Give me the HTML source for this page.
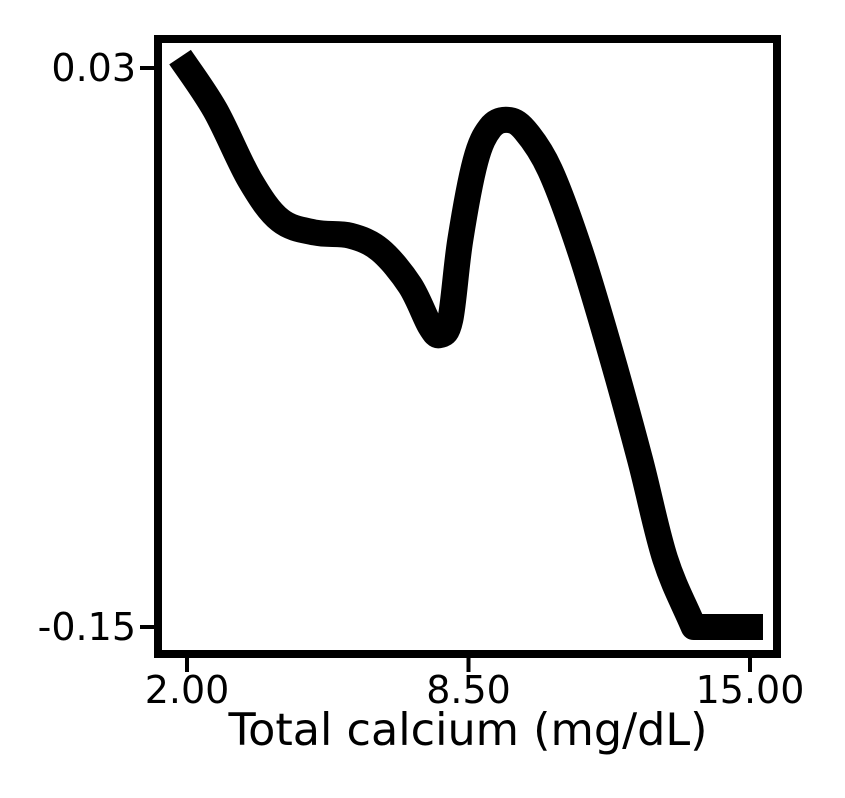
<!DOCTYPE html>
<html><head><meta charset="utf-8"><style>
html,body{margin:0;padding:0;background:#fff;}
svg text{font-family:"DejaVu Sans","Liberation Sans",sans-serif;fill:#000;}
</style></head><body>
<svg id="chart" width="845" height="793" viewBox="0 0 845 793">
<g id="marks"></g>
<rect x="158" y="39" width="619" height="615" fill="none" stroke="#000" stroke-width="8"/>
<g id="axes"></g>
<text x="468" y="745" font-size="44.5" text-anchor="middle">Total calcium (mg/dL)</text>
</svg>
<script>
const xs = [1.84,2.65,3.45,4.15,4.96,5.77,6.46,7.15,7.61,7.84,8.08,8.31,8.66,9.0,9.4,9.8,10.38,11.07,11.77,12.46,13.04,13.70,14.31,15.3];
const ys = [0.0335,0.0165,-0.006,-0.019,-0.023,-0.024,-0.0286,-0.040,-0.053,-0.056,-0.051,-0.0254,0.0,0.0107,0.0133,0.010,-0.0028,-0.0286,-0.061,-0.096,-0.128,-0.150,-0.15,-0.15];
const xTicks = [2.00,8.50,15.00];
const xTickLabels = ["2.00","8.50","15.00"];
const yTicks = [0.03,-0.15];
const yTickLabels = ["0.03","-0.15"];
const NS="http://www.w3.org/2000/svg";
function sx(v){return 187+(v-2)*(750-187)/13;}
function sy(v){return 68+(0.03-v)*(627-68)/0.18;}
const marks=document.getElementById('marks');
const P=xs.map((x,i)=>[sx(x),sy(ys[i])]);
let d='M'+P[0][0]+','+P[0][1];
for(let i=0;i<P.length-1;i++){
 const p0=P[Math.max(0,i-1)],p1=P[i],p2=P[i+1],p3=P[Math.min(P.length-1,i+2)];
 let c1=[p1[0]+(p2[0]-p0[0])/6,p1[1]+(p2[1]-p0[1])/6];
 let c2=[p2[0]-(p3[0]-p1[0])/6,p2[1]-(p3[1]-p1[1])/6];
 if(p1[1]===p2[1]){c1=[c1[0],p1[1]];c2=[c2[0],p2[1]];}
 if(i+2<P.length && p2[1]===p3[1]){c2=[p2[0]-(p2[0]-p1[0])/3,p2[1]-(p2[1]-p1[1])/3];}
 d+=' C'+c1[0]+','+c1[1]+' '+c2[0]+','+c2[1]+' '+p2[0]+','+p2[1];
}
const p=document.createElementNS(NS,'path');
p.setAttribute('d',d);
p.setAttribute('fill','none');p.setAttribute('stroke','#000');
p.setAttribute('stroke-width','26');p.setAttribute('stroke-linejoin','round');


marks.appendChild(p);
const axes=document.getElementById('axes');
xTicks.forEach((t,i)=>{
 const l=document.createElementNS(NS,'line');
 l.setAttribute('x1',sx(t));l.setAttribute('x2',sx(t));l.setAttribute('y1',657);l.setAttribute('y2',672);
 l.setAttribute('stroke','#000');l.setAttribute('stroke-width','4');
 
 
 axes.appendChild(l);
 const tx=document.createElementNS(NS,'text');
 tx.setAttribute('x',sx(t));tx.setAttribute('y',703);tx.setAttribute('font-size','38');tx.setAttribute('text-anchor','middle');
 tx.textContent=xTickLabels[i];
 
 
 axes.appendChild(tx);
});
yTicks.forEach((t,i)=>{
 const l=document.createElementNS(NS,'line');
 l.setAttribute('x1',140);l.setAttribute('x2',155);l.setAttribute('y1',sy(t));l.setAttribute('y2',sy(t));
 l.setAttribute('stroke','#000');l.setAttribute('stroke-width','4');
 
 
 axes.appendChild(l);
 const tx=document.createElementNS(NS,'text');
 tx.setAttribute('x',136);tx.setAttribute('y',sy(t)+13);tx.setAttribute('font-size','38');tx.setAttribute('text-anchor','end');
 tx.textContent=yTickLabels[i];
 
 
 axes.appendChild(tx);
});
</script>
</body></html>
